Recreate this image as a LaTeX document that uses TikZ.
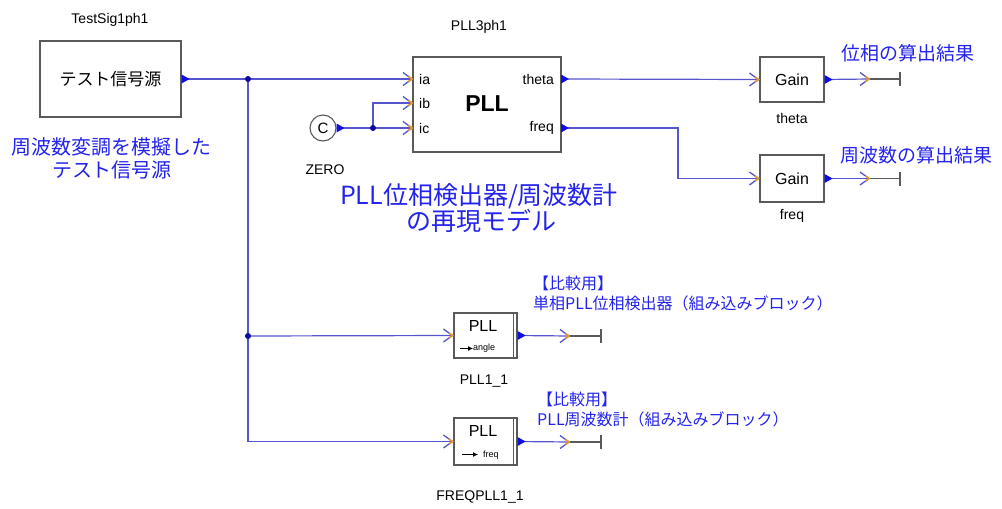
\documentclass[tikz,border=0pt]{standalone}
\usepackage{fontspec}
\setmainfont{Liberation Sans}
\newfontfamily\jp{Noto Sans CJK JP}
\usetikzlibrary{arrows.meta,calc}
\definecolor{wire}{RGB}{85,85,205}
\definecolor{portc}{RGB}{15,15,225}
\definecolor{notec}{RGB}{35,35,235}
\definecolor{tipo}{RGB}{235,150,40}
\definecolor{edge}{RGB}{90,90,90}
\begin{document}
\begin{tikzpicture}[x=1pt,y=-1pt,
  blk/.style={draw=edge, line width=1.1pt, fill=white, inner sep=0pt},
  wirec/.style={draw=wire, line width=1.2pt},
  feed/.style={wirec},
  tag/.style={font=\fontsize{14}{16}\selectfont, inner sep=0pt},
  ptag/.style={font=\fontsize{14}{16}\selectfont, inner sep=0pt},
  note/.style={text=notec, font=\jp\fontsize{19}{23}\selectfont, inner sep=0pt, align=center},
  cmp/.style={text=notec, font=\jp\fontsize{16}{20}\selectfont, inner sep=0pt, align=left},
  dot/.style={circle, fill=portc!70!black, inner sep=0pt, minimum size=6pt},
  gray/.style={draw=edge, line width=1.1pt},
  oport/.pic={\fill[portc] (0,-4.5) -- (8,0) -- (0,4.5) -- cycle;},
  chev/.pic={\draw[wire, line width=1.3pt, line join=miter] (-10,-6.5) -- (-1,0) -- (-10,6.5);
             \draw[tipo, line width=1.6pt] (-4.5,-2.6) -- (-1,0) -- (-4.5,2.6);}
]
\useasboundingbox (0,0) rectangle (1002,509);

% ---------- test signal source ----------
\node[tag] (srclbl) at (110,20) {TestSig1ph1};
\node[blk, minimum width=141pt, minimum height=76pt] (src) at (110.5,79)
  {\jp\fontsize{17}{20}\selectfont テスト信号源};
\node[note, font=\jp\fontsize{20}{23}\selectfont] (srcnote) at (112,158) {周波数変調を模擬した\\テスト信号源};

% ---------- three-phase PLL ----------
\node[tag] (plllbl) at (479,27) {PLL3ph1};
\node[blk, minimum width=148pt, minimum height=95pt] (pll) at (487,104.5) {};
\node[font=\fontsize{23}{26}\selectfont\bfseries, inner sep=0pt] (plltxt) at (487,104) {PLL};
\coordinate (pinA) at (413,79);
\coordinate (pinB) at (413,103);
\coordinate (pinC) at (413,128);
\coordinate (pth) at (561,79);
\coordinate (pfq) at (561,128);
\node[ptag, anchor=west] (tia) at (419,79) {ia};
\node[ptag, anchor=west] (tib) at (419,103) {ib};
\node[ptag, anchor=west] (tic) at (419,128) {ic};
\node[ptag, anchor=east] (tth) at (554,79) {theta};
\node[ptag, anchor=east] (tfq) at (554,128) {freq};

% ---------- zero constant ----------
\node[circle, draw=edge, line width=1.1pt, minimum size=26pt, inner sep=0pt,
      font=\fontsize{15}{16}\selectfont] (zero) at (323,128) {C};
\node[tag] (zerolbl) at (325,170) {ZERO};

\node[note, font=\jp\fontsize{25}{27}\selectfont] (title1) at (479,196) {PLL位相検出器/周波数計};
\node[note, font=\jp\fontsize{25}{27}\selectfont] (title2) at (481,221) {の再現モデル};

% ---------- gains ----------
\node[blk, minimum width=64pt, minimum height=45pt, font=\fontsize{16}{18}\selectfont] (g1) at (792,79.5) {Gain};
\node[tag] (g1lbl) at (792,118) {theta};
\node[blk, minimum width=64pt, minimum height=47pt, font=\fontsize{16}{18}\selectfont] (g2) at (792,178.5) {Gain};
\node[tag] (g2lbl) at (792,216) {freq};
\node[note, anchor=west] (res1) at (841,53) {位相の算出結果};
\node[note, anchor=west] (res2) at (840,155) {周波数の算出結果};
\coordinate (e1) at (870,79);
\coordinate (s1) at (900,79);
\coordinate (e2) at (870,178.5);
\coordinate (s2) at (900,178.5);

% ---------- built-in PLL blocks ----------
\node[blk, minimum width=63pt, minimum height=45pt] (p1) at (485.5,335.5) {};
\draw[gray] ($(p1.north east)+(-4,0)$) -- ($(p1.south east)+(-4,0)$);
\node[font=\fontsize{16}{18}\selectfont, inner sep=0pt] (p1t) at (483,326) {PLL};
\node[font=\fontsize{9}{10}\selectfont, inner sep=0pt, anchor=west] (p1s) at (473,348.5) {angle};
\draw[line width=0.8pt, -{Latex[length=5pt,width=5pt]}] (460,348.5) -- (p1s.west);
\node[tag] (p1lbl) at (484,381) {PLL1\_1};
\node[cmp, anchor=west] (cmp1) at (533,293) {【比較用】\\単相PLL位相検出器（組み込みブロック）};
\coordinate (e3) at (570,336);
\coordinate (s3) at (601,336);

\node[blk, minimum width=63pt, minimum height=47pt] (p2) at (485.5,441.5) {};
\draw[gray] ($(p2.north east)+(-4,0)$) -- ($(p2.south east)+(-4,0)$);
\node[font=\fontsize{16}{18}\selectfont, inner sep=0pt] (p2t) at (483,431) {PLL};
\node[font=\fontsize{9}{10}\selectfont, inner sep=0pt, anchor=west] (p2s) at (483,455) {freq};
\draw[line width=0.8pt, -{Latex[length=5pt,width=5pt]}] (462,454.5) -- (478,454.5);
\node[tag] (p2lbl) at (480,497) {FREQPLL1\_1};
\node[cmp, anchor=west] (cmp2) at (537,409) {【比較用】\\PLL周波数計（組み込みブロック）};
\coordinate (e4) at (570,442);
\coordinate (s4) at (601,442);

% ---------- junctions ----------
\coordinate (j1) at (248,79);
\coordinate (j2) at (248,336);
\coordinate (j3) at (373,128);

% ---------- wires ----------
\draw[feed] (src.east) -- (pinA);
\draw[feed] (j1) |- (p2.west);
\draw[feed] (j2) -- (p1.west);
\draw[feed] (zero.east) -- (pinC);
\draw[feed] (j3) |- (pinB);
\draw[feed] (pth) -- (g1.west);
\draw[feed] (pfq) -- ++(117,0) |- (g2.west);
\draw[feed] (g1.east) -- (e1);
\draw[feed] (g2.east) -- (e2);
\draw[feed] (p1.east) -- (e3);
\draw[feed] (p2.east) -- (e4);

% terminators
\draw[gray] (e1) -- (s1) ($(s1)+(0,-7)$) -- ($(s1)+(0,7)$);
\draw[gray] (e2) -- (s2) ($(s2)+(0,-7)$) -- ($(s2)+(0,7)$);
\draw[gray] (e3) -- (s3) ($(s3)+(0,-7)$) -- ($(s3)+(0,7)$);
\draw[gray] (e4) -- (s4) ($(s4)+(0,-7)$) -- ($(s4)+(0,7)$);

% junction dots
\node[dot] (d1) at (j1) {};
\node[dot] (d2) at (j2) {};
\node[dot] (d3) at (j3) {};

% output ports
\pic at (src.east) {oport};
\pic at (pth) {oport};
\pic at (pfq) {oport};
\pic at (zero.east) {oport};
\pic at (g1.east) {oport};
\pic at (g2.east) {oport};
\pic at (p1.east) {oport};
\pic at (p2.east) {oport};

% input chevrons
\pic at (pinA) {chev};
\pic at (pinB) {chev};
\pic at (pinC) {chev};
\pic at (g1.west) {chev};
\pic at (g2.west) {chev};
\pic at (p1.west) {chev};
\pic at (p2.west) {chev};
\pic at (e1) {chev};
\pic at (e2) {chev};
\pic at (e3) {chev};
\pic at (e4) {chev};
\end{tikzpicture}
\end{document}
